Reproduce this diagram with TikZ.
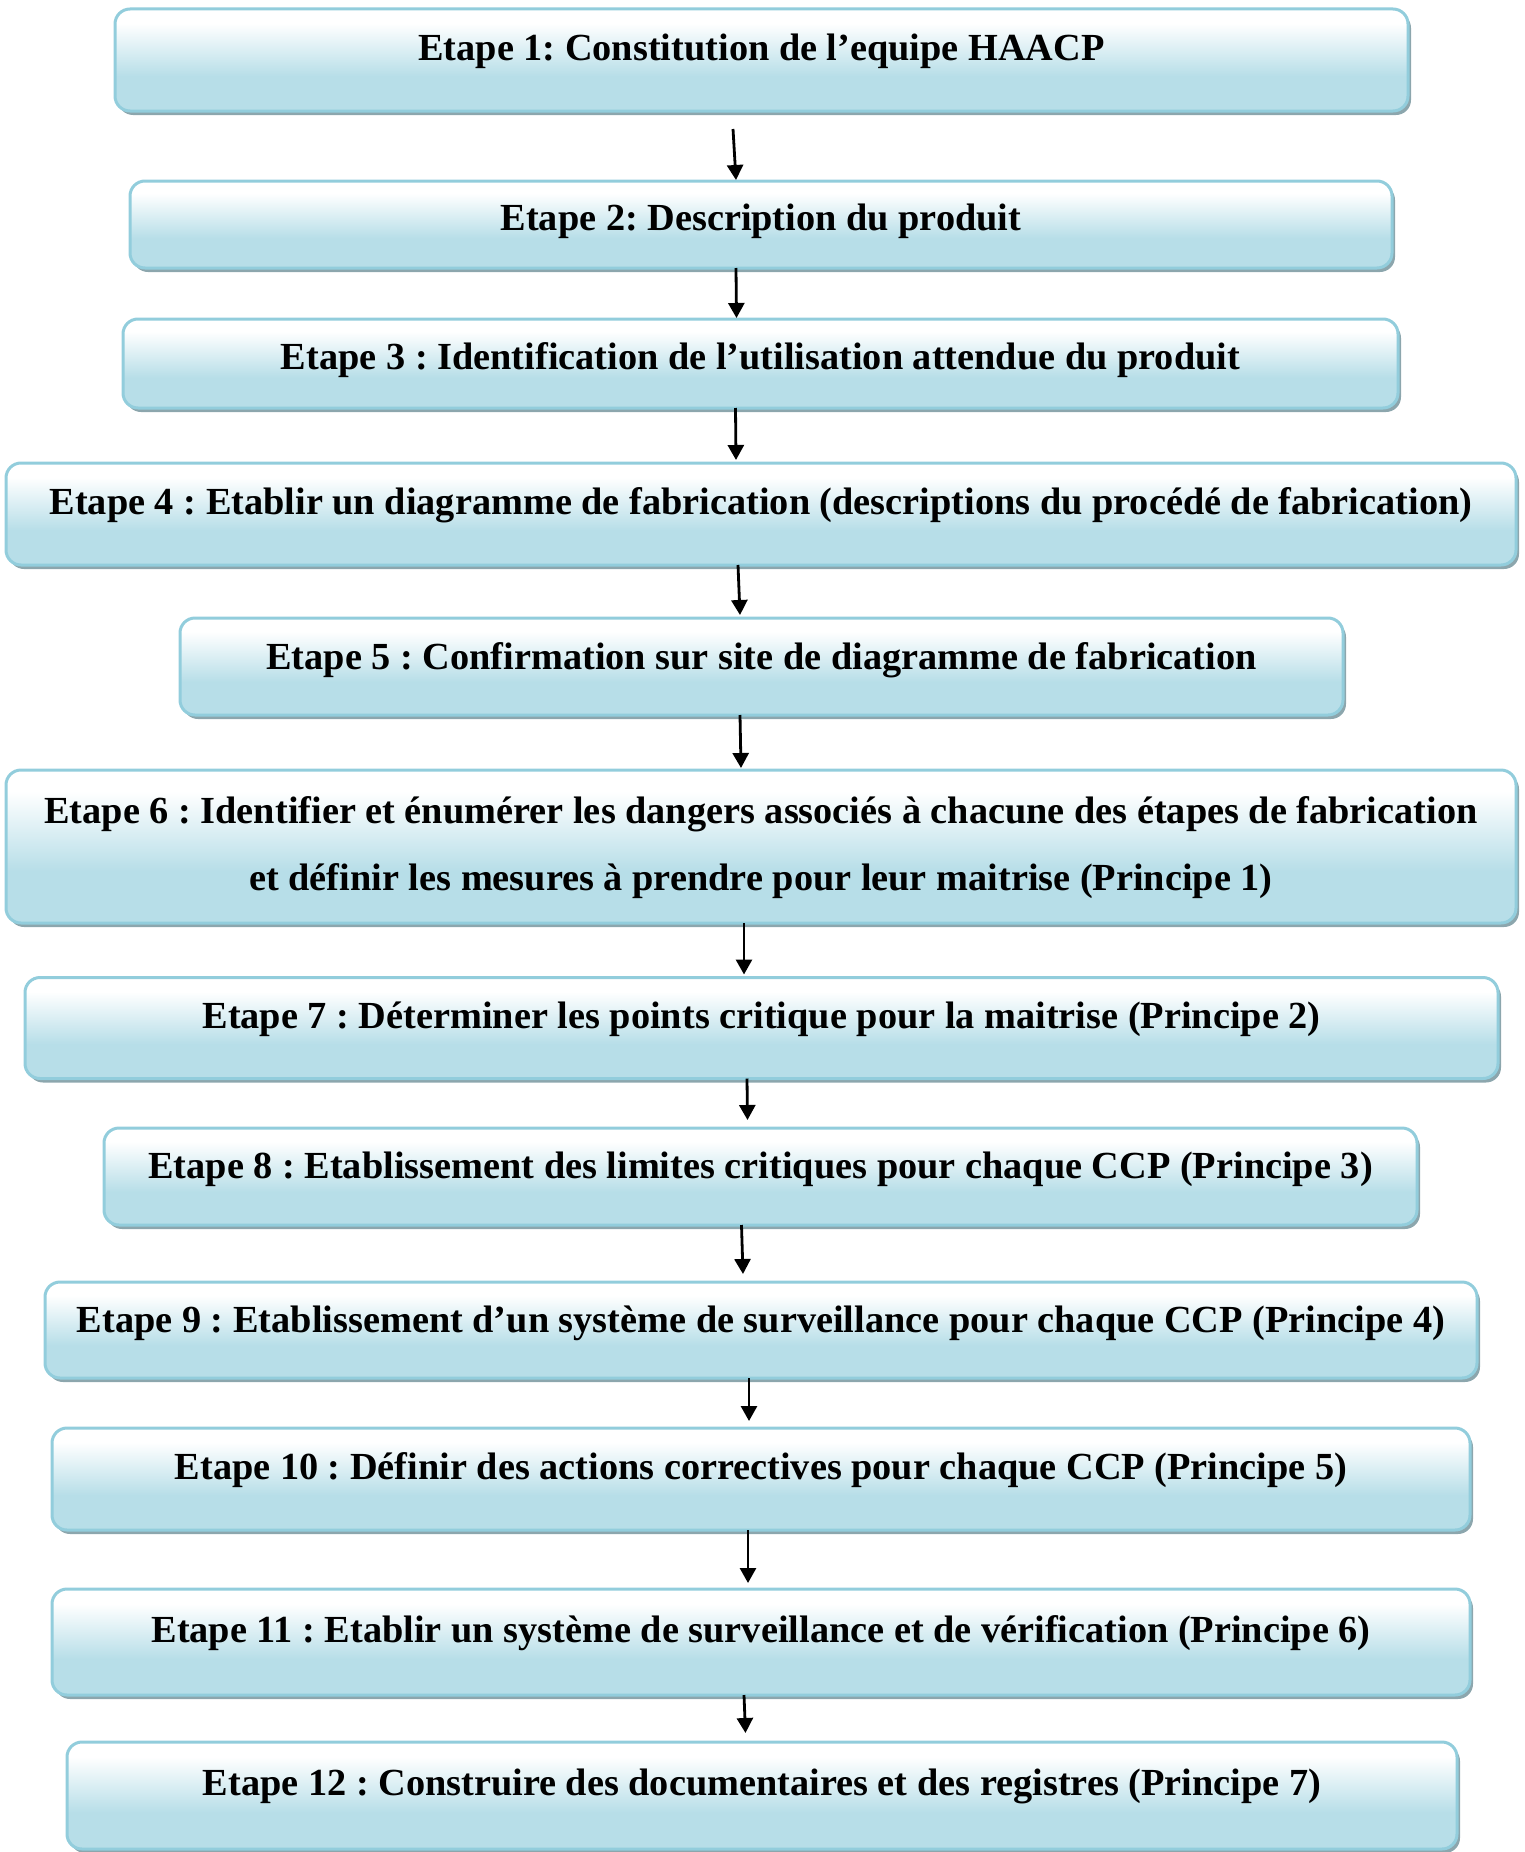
\documentclass[tikz,border=0pt]{standalone}
\usepackage{fontspec}
\setmainfont{Liberation Serif}
\frenchspacing
\usetikzlibrary{arrows.meta,shadows}
\definecolor{bordc}{RGB}{146,205,220}
\definecolor{fillc}{RGB}{183,222,232}
\definecolor{shadc}{RGB}{140,166,173}
\pgfdeclareverticalshading{boxshade}{100bp}{color(0bp)=(fillc); color(42bp)=(fillc); color(68bp)=(white); color(100bp)=(white)}
\tikzset{
  stepbox/.style={draw=bordc, line width=3pt, rounded corners=15pt, shading=boxshade,
    drop shadow={shadow xshift=3pt, shadow yshift=-4pt, fill=shadc, opacity=1},
    inner sep=0pt, outer sep=0pt, text height=0pt, text depth=0pt,
    font=\bfseries\fontsize{38.3pt}{67pt}\selectfont},
  arr/.style={line width=2.8pt, -{Triangle[width=16pt,length=15pt]}}
}
\begin{document}
\begin{tikzpicture}[x=1pt,y=-1pt]
\useasboundingbox (0,0) rectangle (1525,1852);
\node[stepbox, minimum width=1293pt, minimum height=102pt] (b1) at (761.5,60) {Etape 1: Constitution de l’equipe HAACP};
\node[stepbox, minimum width=1262pt, minimum height=87pt, text height=12pt] (b2) at (761,224.5) {Etape 2: Description du produit};
\node[stepbox, minimum width=1275pt, minimum height=89pt, text height=12pt] (b3) at (760.5,363.5) {Etape 3 : Identification de l’utilisation attendue du produit};
\node[stepbox, minimum width=1510pt, minimum height=102pt] (b4) at (761,514) {Etape 4 : Etablir un diagramme de fabrication (descriptions du procédé de fabrication)};
\node[stepbox, minimum width=1163pt, minimum height=97pt, text height=5pt] (b5) at (761.5,666.5) {Etape 5 : Confirmation sur site de diagramme de fabrication};
\node[stepbox, minimum width=1510pt, minimum height=153pt, text width=1500pt, align=flush center, text depth=47pt] (b6) at (761,846.5) {Etape 6 : Identifier et énumérer les dangers associés à chacune des étapes de fabrication\\ et définir les mesures à prendre pour leur maitrise (Principe 1)};
\node[stepbox, minimum width=1473pt, minimum height=101pt] (b7) at (761.5,1028) {Etape 7 : Déterminer les points critique pour la maitrise (Principe 2)};
\node[stepbox, minimum width=1313pt, minimum height=97pt, text height=4pt] (b8) at (760.5,1176.5) {Etape 8 : Etablissement des limites critiques pour chaque CCP (Principe 3)};
\node[stepbox, minimum width=1432pt, minimum height=96pt, text height=4pt] (b9) at (761,1330) {Etape 9 : Etablissement d’un système de surveillance pour chaque CCP (Principe 4)};
\node[stepbox, minimum width=1418pt, minimum height=102pt] (b10) at (761,1479) {Etape 10 : Définir des actions correctives pour chaque CCP (Principe 5)};
\node[stepbox, minimum width=1418pt, minimum height=106pt] (b11) at (761,1642) {Etape 11 : Etablir un système de surveillance et de vérification (Principe 6)};
\node[stepbox, minimum width=1390pt, minimum height=107pt] (b12) at (762,1795.5) {Etape 12 : Construire des documentaires et des registres (Principe 7)};

\draw[arr] ([xshift=-28.5pt,yshift=-18pt]b1.south) -- ([xshift=-25pt,yshift=1pt]b2.north);
\draw[arr] ([xshift=-25pt]b2.south) -- ([xshift=-24pt,yshift=1pt]b3.north);
\draw[arr] ([xshift=-25pt]b3.south) -- ([xshift=-25pt,yshift=3pt]b4.north);
\draw[arr] ([xshift=-23pt]b4.south) -- ([xshift=-21.5pt,yshift=3pt]b5.north);
\draw[arr] ([xshift=-21.5pt]b5.south) -- ([xshift=-20pt,yshift=2pt]b6.north);
\draw[arr] ([xshift=-17pt]b6.south) -- ([xshift=-17.5pt,yshift=3pt]b7.north);
\draw[arr] ([xshift=-14.5pt]b7.south) -- ([xshift=-13pt,yshift=8pt]b8.north);
\draw[arr] ([xshift=-19pt]b8.south) -- ([xshift=-18pt,yshift=8pt]b9.north);
\draw[arr] ([xshift=-12pt]b9.south) -- ([xshift=-12pt,yshift=7pt]b10.north);
\draw[arr] ([xshift=-13pt]b10.south) -- ([xshift=-13pt,yshift=6pt]b11.north);
\draw[arr] ([xshift=-17pt]b11.south) -- ([xshift=-16.5pt,yshift=9pt]b12.north);
\end{tikzpicture}
\end{document}
